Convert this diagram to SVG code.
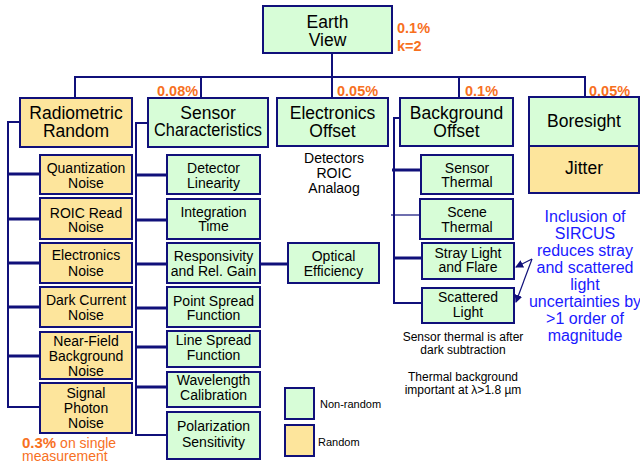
<svg xmlns="http://www.w3.org/2000/svg" width="640" height="465" viewBox="0 0 640 465">
<style>
text{font-family:"Liberation Sans",Arial,sans-serif;fill:#000;text-anchor:middle}
.g{fill:#d7fdd7;stroke:#10107a;stroke-width:2}
.o{fill:#fde59c;stroke:#10107a;stroke-width:2}
.t1{font-size:17.5px}
.t2{font-size:14px}
.pc{font-size:14.5px;font-weight:bold;fill:#f7701e;text-anchor:start}
.ln{fill:none;stroke:#10107a;stroke-width:2}
.st{fill:none;stroke:#10107a;stroke-width:3}
.th{fill:none;stroke:#10107a;stroke-width:1.2}
.bl{font-size:16px;fill:#1a1aff}
.nt{font-size:12px}
</style>
<defs>
<marker id="ah" markerWidth="8" markerHeight="8" refX="7" refY="4" orient="auto" markerUnits="userSpaceOnUse">
<path d="M0,0 L8,4 L0,8 Z" fill="#10107a"/>
</marker>
</defs>
<g id="connectors">
<path class="ln" d="M332,53 V98"/>
<path class="ln" d="M75,98 V77 H585 V97"/>
<path class="ln" d="M201,77 V98"/>
<path class="ln" d="M459,77 V98"/>
<path class="ln" d="M20,122 H8 V407 H40"/>
<path class="st" d="M8,174 H40 M8,219 H40 M8,263 H40 M8,307 H40 M8,356 H40"/>
<path class="ln" d="M148,123 H136 V435 H167"/>
<path class="st" d="M136,175 H167 M136,220 H167 M136,264 H167 M136,308 H167 M136,347 H167 M136,387 H167"/>
<path class="st" d="M260,264 H288"/>
<path class="ln" d="M400,118 H394 V303 H422"/>
<path class="st" d="M392,170 H421 M394,258 H422"/>
<path class="th" d="M391,215 H420"/>
<path class="th" d="M532,259 L516,267" marker-end="url(#ah)"/>
<path class="th" d="M532,259 L516,302" marker-end="url(#ah)"/>
</g>
<g id="earth-view">
<rect class="g" x="263" y="6" width="129" height="47"/>
<text class="t1" x="327.5" y="28" font-size="18">Earth</text>
<text class="t1" x="327.5" y="46" font-size="18">View</text>
<text class="pc" x="397" y="33">0.1%</text>
<text class="pc" x="397" y="51">k=2</text>
</g>
<g id="radiometric-random">
<rect class="o" x="20" y="98" width="112" height="49"/>
<text class="t1" x="76" y="119" font-size="18">Radiometric</text>
<text class="t1" x="76" y="137" font-size="18">Random</text>
</g>
<g id="sensor-characteristics">
<rect class="g" x="148" y="98" width="120" height="49"/>
<text class="t1" x="208" y="119">Sensor</text>
<text class="t1" x="208" y="136" textLength="108" lengthAdjust="spacingAndGlyphs">Characteristics</text>
<text class="pc" x="157" y="96">0.08%</text>
</g>
<g id="electronics-offset">
<rect class="g" x="277" y="98" width="111" height="48"/>
<text class="t1" x="332.5" y="119">Electronics</text>
<text class="t1" x="332.5" y="137">Offset</text>
<text class="pc" x="337" y="96">0.05%</text>
<text class="t2" x="334" y="163">Detectors</text>
<text class="t2" x="334" y="178">ROIC</text>
<text class="t2" x="334" y="193">Analaog</text>
</g>
<g id="background-offset">
<rect class="g" x="400" y="98" width="113" height="48"/>
<text class="t1" x="456.5" y="119">Background</text>
<text class="t1" x="456.5" y="137">Offset</text>
<text class="pc" x="465" y="96">0.1%</text>
</g>
<g id="boresight">
<rect class="g" x="529" y="97" width="110" height="49"/>
<text class="t1" x="584" y="127">Boresight</text>
<text class="pc" x="589" y="96">0.05%</text>
</g>
<g id="jitter">
<rect class="o" x="529" y="146" width="110" height="47"/>
<text class="t1" x="584" y="174">Jitter</text>
</g>
<g id="quantization-noise">
<rect class="o" x="40" y="155" width="92" height="39"/>
<text class="t2" x="86" y="173">Quantization</text>
<text class="t2" x="86" y="188">Noise</text>
</g>
<g id="roic-read-noise">
<rect class="o" x="40" y="198" width="92" height="41"/>
<text class="t2" x="86" y="218">ROIC Read</text>
<text class="t2" x="86" y="232">Noise</text>
</g>
<g id="electronics-noise">
<rect class="o" x="40" y="243" width="92" height="40"/>
<text class="t2" x="86" y="260">Electronics</text>
<text class="t2" x="86" y="276">Noise</text>
</g>
<g id="dark-current-noise">
<rect class="o" x="40" y="287" width="92" height="40"/>
<text class="t2" x="86" y="305">Dark Current</text>
<text class="t2" x="86" y="320">Noise</text>
</g>
<g id="near-field-background-noise">
<rect class="o" x="40" y="332" width="92" height="47"/>
<text class="t2" x="86" y="346">Near-Field</text>
<text class="t2" x="86" y="361">Background</text>
<text class="t2" x="86" y="376">Noise</text>
</g>
<g id="signal-photon-noise">
<rect class="o" x="40" y="383" width="92" height="50"/>
<text class="t2" x="86" y="398">Signal</text>
<text class="t2" x="86" y="413">Photon</text>
<text class="t2" x="86" y="428">Noise</text>
</g>
<g id="detector-linearity">
<rect class="g" x="167" y="155" width="93" height="39"/>
<text class="t2" x="213.5" y="173">Detector</text>
<text class="t2" x="213.5" y="188">Linearity</text>
</g>
<g id="integration-time">
<rect class="g" x="167" y="199" width="93" height="40"/>
<text class="t2" x="213.5" y="217">Integration</text>
<text class="t2" x="213.5" y="231">Time</text>
</g>
<g id="responsivity">
<rect class="g" x="167" y="243" width="93" height="40"/>
<text class="t2" x="213.5" y="261">Responsivity</text>
<text class="t2" x="213.5" y="276">and Rel. Gain</text>
</g>
<g id="point-spread-function">
<rect class="g" x="167" y="287" width="93" height="40"/>
<text class="t2" x="213.5" y="306">Point Spread</text>
<text class="t2" x="213.5" y="320">Function</text>
</g>
<g id="line-spread-function">
<rect class="g" x="167" y="331" width="93" height="36"/>
<text class="t2" x="213.5" y="345">Line Spread</text>
<text class="t2" x="213.5" y="360">Function</text>
</g>
<g id="wavelength-calibration">
<rect class="g" x="167" y="372" width="93" height="35"/>
<text class="t2" x="213.5" y="385">Wavelength</text>
<text class="t2" x="213.5" y="400">Calibration</text>
</g>
<g id="polarization-sensitivity">
<rect class="g" x="167" y="412" width="93" height="47"/>
<text class="t2" x="213.5" y="431">Polarization</text>
<text class="t2" x="213.5" y="447">Sensitivity</text>
</g>
<g id="optical-efficiency">
<rect class="g" x="288" y="243" width="91" height="40"/>
<text class="t2" x="333.5" y="261">Optical</text>
<text class="t2" x="333.5" y="276">Efficiency</text>
</g>
<g id="sensor-thermal">
<rect class="g" x="421" y="155" width="92" height="39"/>
<text class="t2" x="467" y="173">Sensor</text>
<text class="t2" x="467" y="187">Thermal</text>
</g>
<g id="scene-thermal">
<rect class="g" x="420" y="199" width="93" height="40"/>
<text class="t2" x="467" y="217">Scene</text>
<text class="t2" x="467" y="232">Thermal</text>
</g>
<g id="stray-light">
<rect class="g" x="422" y="243" width="92" height="36"/>
<text class="t2" x="468" y="258">Stray Light</text>
<text class="t2" x="468" y="272">and Flare</text>
</g>
<g id="scattered-light">
<rect class="g" x="422" y="288" width="92" height="35"/>
<text class="t2" x="468" y="302">Scattered</text>
<text class="t2" x="468" y="317">Light</text>
</g>
<g id="notes">
<text class="nt" x="463" y="341">Sensor thermal is after</text>
<text class="nt" x="463" y="354">dark subtraction</text>
<text class="nt" x="463" y="381">Thermal background</text>
<text class="nt" x="463" y="394">important at λ&gt;1.8 µm</text>
<text class="bl" x="585" y="222">Inclusion of</text>
<text class="bl" x="585" y="239">SIRCUS</text>
<text class="bl" x="585" y="256">reduces stray</text>
<text class="bl" x="585" y="273">and scattered</text>
<text class="bl" x="585" y="290">light</text>
<text class="bl" x="585" y="307">uncertainties by</text>
<text class="bl" x="585" y="324">&gt;1 order of</text>
<text class="bl" x="585" y="341">magnitude</text>
<text x="22" y="448" style="text-anchor:start;fill:#f7701e;font-size:14px"><tspan style="font-weight:bold;font-size:15px">0.3%</tspan> on single</text>
<text x="22" y="461" style="text-anchor:start;fill:#f7701e;font-size:14px">measurement</text>
</g>
<g id="legend">
<rect class="g" x="285" y="388" width="29" height="31"/>
<rect class="o" x="285" y="425" width="29" height="31"/>
<text x="320" y="408" style="text-anchor:start;font-size:11px">Non-random</text>
<text x="318" y="446" style="text-anchor:start;font-size:11px">Random</text>
</g>
</svg>
